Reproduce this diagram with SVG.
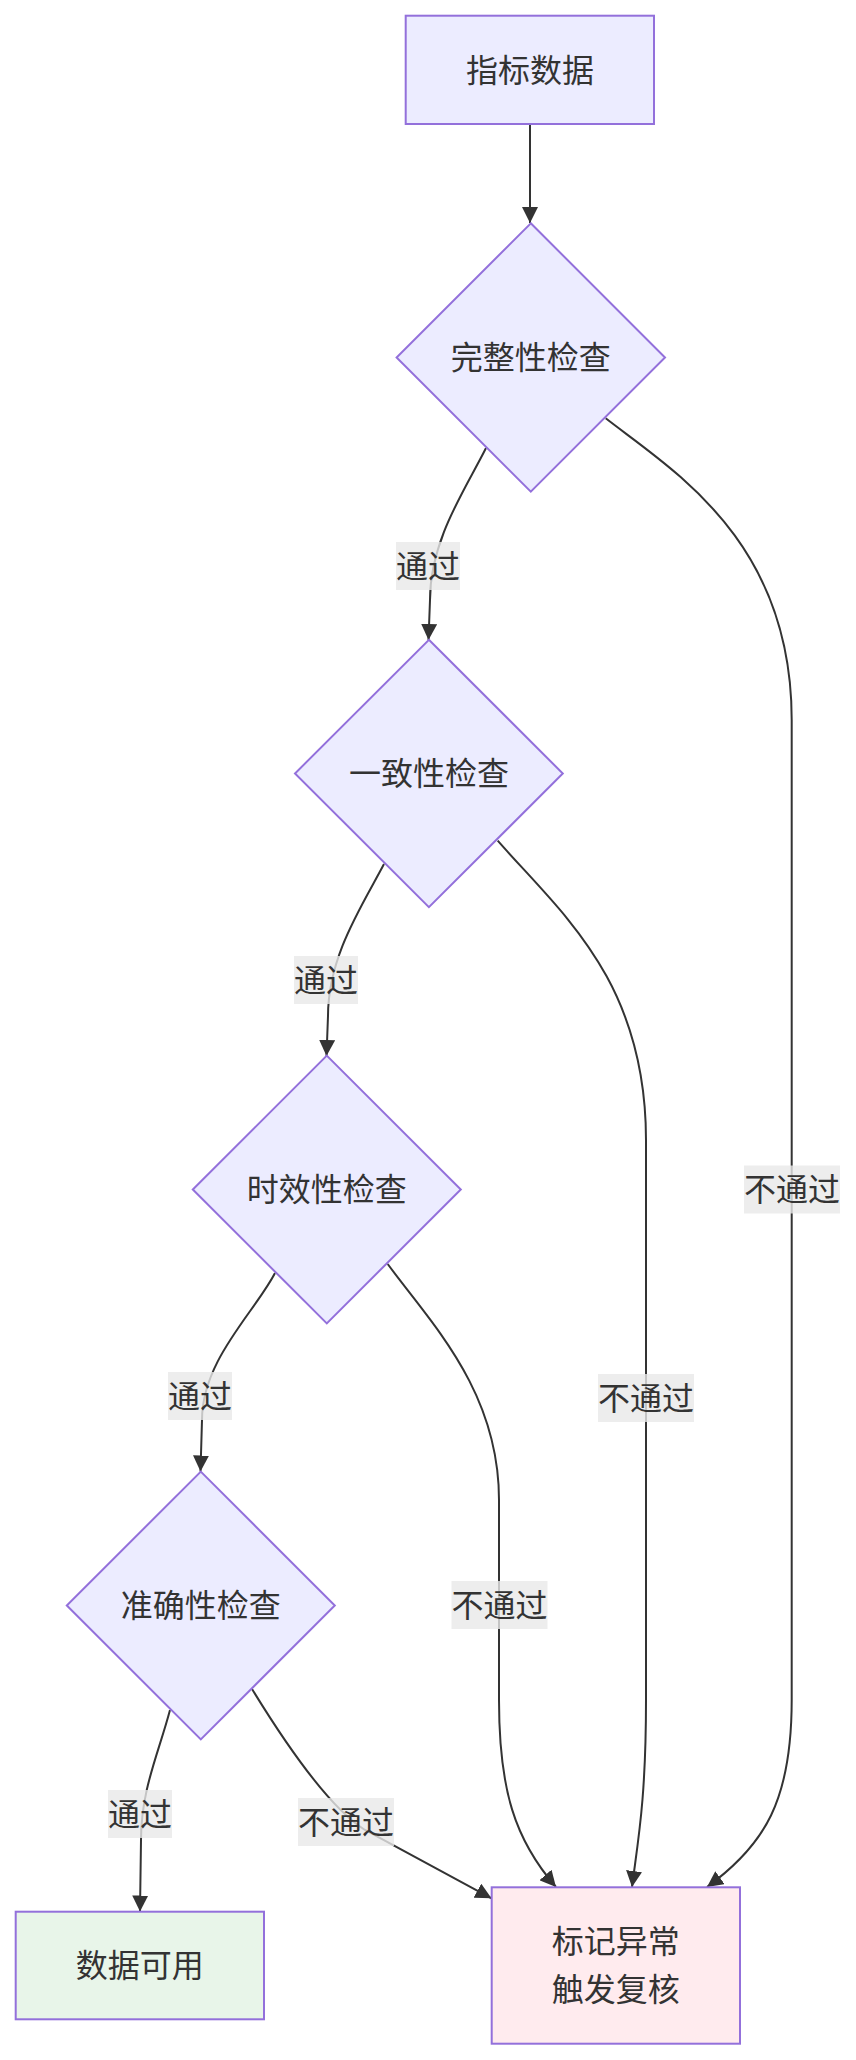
<svg xmlns="http://www.w3.org/2000/svg" width="856" height="2060" viewBox="0 0 856 2060">
<style>
.node{fill:#ECECFF;stroke:#9370DB;stroke-width:2}
.ok{fill:#E8F5E9;stroke:#9370DB;stroke-width:2}
.bad{fill:#FFEBEE;stroke:#9370DB;stroke-width:2}
.t{font-family:"Noto Sans CJK SC","Noto Sans",sans-serif;font-size:32px;fill:#333;text-anchor:middle}
.e{fill:none;stroke:#333;stroke-width:2}
.lb{fill:#e8e8e8;opacity:0.8}
</style>
<defs>
<marker id="arr" viewBox="0 0 10 10" refX="10" refY="5" markerUnits="userSpaceOnUse" markerWidth="16" markerHeight="16" orient="auto">
<path d="M0,0 L10,5 L0,10 z" fill="#333"/>
</marker>
</defs>
<rect width="856" height="2060" fill="#fff"/>
<g id="connectors">
<path class="e" marker-end="url(#arr)" d="M530,124 L530,223"/>
<path class="e" marker-end="url(#arr)" d="M486,448 C465,490 430,540 430,600 L428.5,640"/>
<path class="e" marker-end="url(#arr)" d="M605.7,418.3 C672,470 791.7,540 791.7,720 L791.7,1700 C791.7,1800 765,1845 707,1887"/>
<path class="e" marker-end="url(#arr)" d="M384,864 C362,906 328,956 328,1016 L326.5,1056"/>
<path class="e" marker-end="url(#arr)" d="M497.7,840.7 C560,912 646,980 646,1140 L646,1700 C646,1800 638,1840 632,1887"/>
<path class="e" marker-end="url(#arr)" d="M275,1273 C255,1312 202,1360 202,1420 L200.5,1471.5"/>
<path class="e" marker-end="url(#arr)" d="M387.7,1264 C430,1322 499,1390 499,1500 L499,1700 C499,1790 515,1840 556,1887"/>
<path class="e" marker-end="url(#arr)" d="M170,1710 C158,1755 141,1790 141,1840 L140,1911.5"/>
<path class="e" marker-end="url(#arr)" d="M252,1689 C282,1738 328,1806.8 365,1830 L491.5,1898.3"/>
</g>
<g id="edge-labels">
<g id="l1"><rect class="lb" x="396" y="542" width="64" height="48"/><text class="t" x="428" y="577.5">通过</text></g>
<g id="l2"><rect class="lb" x="294" y="956" width="64" height="48"/><text class="t" x="326" y="991.5">通过</text></g>
<g id="l3"><rect class="lb" x="168" y="1372" width="64" height="48"/><text class="t" x="200" y="1407.5">通过</text></g>
<g id="l4"><rect class="lb" x="108" y="1790" width="64" height="48"/><text class="t" x="140" y="1825.5">通过</text></g>
<g id="l5"><rect class="lb" x="744" y="1165.5" width="96" height="48"/><text class="t" x="792" y="1201">不通过</text></g>
<g id="l6"><rect class="lb" x="598" y="1374" width="96" height="48"/><text class="t" x="646" y="1409.5">不通过</text></g>
<g id="l7"><rect class="lb" x="451.5" y="1581" width="96" height="48"/><text class="t" x="499.5" y="1616.5">不通过</text></g>
<g id="l8"><rect class="lb" x="298" y="1798" width="96" height="48"/><text class="t" x="346" y="1833.5">不通过</text></g>
</g>
<g id="n-start"><rect class="node" x="405.7" y="15.7" width="248.3" height="108.3"/><text class="t" x="530" y="81.5">指标数据</text></g>
<g id="n-complete"><polygon class="node" points="530.8,223.3 665,357.5 530.8,491.7 396.6,357.5"/><text class="t" x="530.8" y="369">完整性检查</text></g>
<g id="n-consistent"><polygon class="node" points="428.9,639.8 562.8,773.5 428.9,907.2 295,773.5"/><text class="t" x="428.9" y="785">一致性检查</text></g>
<g id="n-timely"><polygon class="node" points="326.8,1055.6 460.8,1189.5 326.8,1323.4 192.8,1189.5"/><text class="t" x="326.8" y="1201">时效性检查</text></g>
<g id="n-accurate"><polygon class="node" points="200.8,1471.6 334.8,1605.5 200.8,1739.4 66.8,1605.5"/><text class="t" x="200.8" y="1617">准确性检查</text></g>
<g id="n-ok"><rect class="ok" x="15.7" y="1911.7" width="248.3" height="107.6"/><text class="t" x="139.8" y="1977">数据可用</text></g>
<g id="n-bad"><rect class="bad" x="491.7" y="1887.3" width="248.3" height="156.4"/><text class="t" x="615.8" y="1953">标记异常</text><text class="t" x="615.8" y="2001">触发复核</text></g>
</svg>
